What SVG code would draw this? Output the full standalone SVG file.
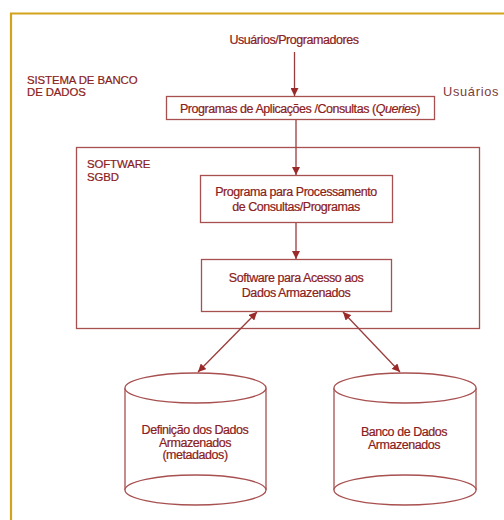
<svg xmlns="http://www.w3.org/2000/svg" width="504" height="520" viewBox="0 0 504 520">
  <style>
    .frame { fill: none; stroke: #d4a31c; stroke-width: 2.2; }
    .box { fill: #ffffff; stroke: #a85050; stroke-width: 1.3; }
    .cyl { fill: #ffffff; stroke: #a85050; stroke-width: 1.3; }
    .edge { fill: none; stroke: #9a3c3c; stroke-width: 1.3; }
    .t { font-family: "Liberation Sans", Arial, sans-serif; fill: #8a2020; stroke: #8a2020; stroke-width: 0.2px; font-size: 12.5px; letter-spacing: -0.45px; }
    .c { text-anchor: middle; }
    .lbl { font-size: 11.4px; letter-spacing: -0.1px; }
    .side { font-family: "Liberation Sans", Arial, sans-serif; fill: #7a3c3c; font-size: 12.8px; letter-spacing: 0.7px; }
  </style>
  <defs>
    <marker id="head" viewBox="0 0 10 10" refX="10" refY="5" markerWidth="8" markerHeight="8" markerUnits="userSpaceOnUse" orient="auto-start-reverse">
      <path d="M0,0 L10,5 L0,10 Z" fill="#9a2a2a"/>
    </marker>
  </defs>

  <rect width="504" height="520" fill="#ffffff"/>
  <!-- outer frame (open to the right and bottom) -->
  <path class="frame" d="M11,522 V13.5 H506"/>

  <!-- system labels -->
  <g id="sistema">
    <text class="t lbl" x="27" y="83.5">SISTEMA DE BANCO</text>
    <text class="t lbl" x="27" y="95.5">DE DADOS</text>
  </g>
  <text class="side" x="443" y="96">Usuários</text>

  <g id="usuarios">
    <text class="t c" x="294" y="44">Usuários/Programadores</text>
  </g>

  <g id="programas">
    <rect class="box" x="166.5" y="96.5" width="268" height="23"/>
    <text class="t c" x="300" y="113">Programas de Aplicações /Consultas (<tspan font-style="italic">Queries</tspan>)</text>
  </g>

  <g id="sgbd">
    <rect class="box" x="76.5" y="147.5" width="403" height="181"/>
    <text class="t lbl" x="87" y="168">SOFTWARE</text>
    <text class="t lbl" x="87" y="181">SGBD</text>
  </g>

  <g id="processamento">
    <rect class="box" x="200.5" y="175.5" width="192" height="47"/>
    <text class="t c" x="296" y="196">Programa para Processamento</text>
    <text class="t c" x="296" y="211">de Consultas/Programas</text>
  </g>

  <g id="acesso">
    <rect class="box" x="201.5" y="259.5" width="190" height="52"/>
    <text class="t c" x="296" y="282">Software para Acesso aos</text>
    <text class="t c" x="296" y="297">Dados Armazenados</text>
  </g>

  <g id="metadados">
    <path class="cyl" d="M125,388 V490 A70.5,15 0 0 0 266,490 V388"/>
    <ellipse class="cyl" cx="195.5" cy="388" rx="70.5" ry="15"/>
    <path class="cyl" d="M125,490 A70.5,15 0 0 1 266,490"/>
    <text class="t c" x="195" y="434">Definição dos Dados</text>
    <text class="t c" x="195" y="446.5">Armazenados</text>
    <text class="t c" x="195" y="459">(metadados)</text>
  </g>

  <g id="banco">
    <path class="cyl" d="M334,388 V490 A71,15 0 0 0 476,490 V388"/>
    <ellipse class="cyl" cx="405" cy="388" rx="71" ry="15"/>
    <path class="cyl" d="M334,490 A71,15 0 0 1 476,490"/>
    <text class="t c" x="404" y="436">Banco de Dados</text>
    <text class="t c" x="404" y="449">Armazenados</text>
  </g>

  <g id="connectors">
    <line class="edge" x1="294.5" y1="52" x2="294.5" y2="96" marker-end="url(#head)"/>
    <line class="edge" x1="296" y1="120" x2="296" y2="175" marker-end="url(#head)"/>
    <line class="edge" x1="296" y1="223" x2="296" y2="259" marker-end="url(#head)"/>
    <line class="edge" x1="257" y1="312" x2="198" y2="372" marker-start="url(#head)" marker-end="url(#head)"/>
    <line class="edge" x1="343" y1="312" x2="400" y2="372" marker-start="url(#head)" marker-end="url(#head)"/>
  </g>
</svg>
